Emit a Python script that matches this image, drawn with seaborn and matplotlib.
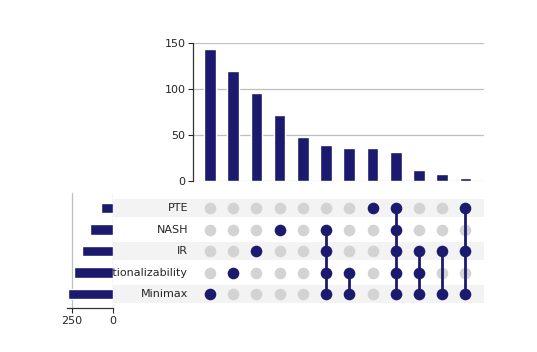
import numpy as np
import pandas as pd
import seaborn as sns
import matplotlib.pyplot as plt

# sets, top to bottom in the matrix
sets = ["PTE", "NASH", "IR", "Rationalizability", "Minimax"]

# intersections, left to right
members = [
    ["Minimax"],
    ["Rationalizability"],
    ["IR"],
    ["NASH"],
    [],
    ["NASH", "IR", "Rationalizability", "Minimax"],
    ["Rationalizability", "Minimax"],
    ["PTE"],
    ["PTE", "NASH", "IR", "Rationalizability", "Minimax"],
    ["IR", "Rationalizability", "Minimax"],
    ["IR", "Minimax"],
    ["PTE", "IR", "Minimax"],
]
counts = [143, 120, 96, 72, 48, 39, 36, 36, 32, 12, 8, 3]

set_sizes = [sum(c for c, m in zip(counts, members) if s in m) for s in sets]

dark = "#1b1a6e"
light = "#d3d3d3"
W, H = 537, 352


def rect(x0, y0, x1, y1):
    return [x0 / W, 1 - y1 / H, (x1 - x0) / W, (y1 - y0) / H]


sns.set_style("white")
plt.rcParams["font.family"] = ["DejaVu Sans"]
fig = plt.figure(figsize=(W / 100, H / 100), dpi=100)

ncol = len(counts)
xl = (-0.73, ncol - 1 + 0.8)
yl = (4.65, -0.7)

# intersection bars
ax_bar = fig.add_axes(rect(193, 43, 484, 181))
df_int = pd.DataFrame({"col": np.arange(ncol), "count": counts})
sns.barplot(data=df_int, x="col", y="count", color=dark, width=0.5,
            saturation=1, ax=ax_bar)
ax_bar.set_xlim(*xl)
ax_bar.set_ylim(0, 150)
ax_bar.set_yticks([0, 50, 100, 150])
ax_bar.set_xticks([])
ax_bar.set_xlabel("")
ax_bar.set_ylabel("")
ax_bar.yaxis.grid(True, color="#bfbfbf", lw=0.9)
ax_bar.set_axisbelow(True)
for s in ["top", "right", "bottom"]:
    ax_bar.spines[s].set_visible(False)
ax_bar.spines["left"].set_color("#333333")
ax_bar.spines["left"].set_linewidth(0.9)
ax_bar.tick_params(axis="y", length=3.5, width=0.8, labelsize=8, left=True, pad=2)

# matrix
ax_mat = fig.add_axes(rect(113, 193, 484, 308))
ax_mat.set_xlim(-4.18, xl[1])
ax_mat.set_ylim(*yl)
ax_mat.axis("off")
for i, s in enumerate(sets):
    if i % 2 == 0:
        ax_mat.axhspan(i - 0.41, i + 0.41, color="#f3f3f3", lw=0, zorder=0)
    ax_mat.text(-0.95, i, s, ha="right", va="center", fontsize=8, zorder=1)

pts = []
for j, m in enumerate(members):
    for i, s in enumerate(sets):
        pts.append({"col": j, "row": i, "on": s in m})
df_pts = pd.DataFrame(pts)
sns.scatterplot(data=df_pts[~df_pts["on"]], x="col", y="row", color=light,
                s=70, linewidth=0, ax=ax_mat, zorder=2)
for j, m in enumerate(members):
    rows = [sets.index(s) for s in m]
    if len(rows) > 1:
        ax_mat.vlines(j, min(rows), max(rows), color=dark, lw=2, zorder=3)
sns.scatterplot(data=df_pts[df_pts["on"]], x="col", y="row", color=dark,
                s=70, linewidth=0, ax=ax_mat, zorder=4)
ax_mat.set_xlim(-4.18, xl[1])
ax_mat.set_ylim(*yl)

# set size bars
ax_set = fig.add_axes(rect(67, 193, 113, 308))
df_set = pd.DataFrame({"set": sets, "size": set_sizes})
sns.barplot(data=df_set, y="set", x="size", color=dark, width=0.5,
            saturation=1, orient="h", ax=ax_set)
ax_set.set_xlim(280, 0)
ax_set.set_ylim(*yl)
ax_set.set_xticks([250, 0])
ax_set.set_yticks([])
ax_set.set_xlabel("")
ax_set.set_ylabel("")
ax_set.xaxis.grid(True, color="#bfbfbf", lw=0.9)
ax_set.set_axisbelow(True)
ax_set.patch.set_alpha(0)
for s in ["top", "right", "left"]:
    ax_set.spines[s].set_visible(False)
ax_set.spines["bottom"].set_color("#333333")
ax_set.spines["bottom"].set_linewidth(0.9)
ax_set.tick_params(axis="x", length=3.5, width=0.8, labelsize=8, bottom=True, pad=2)

fig.savefig("out.png", dpi=100)
